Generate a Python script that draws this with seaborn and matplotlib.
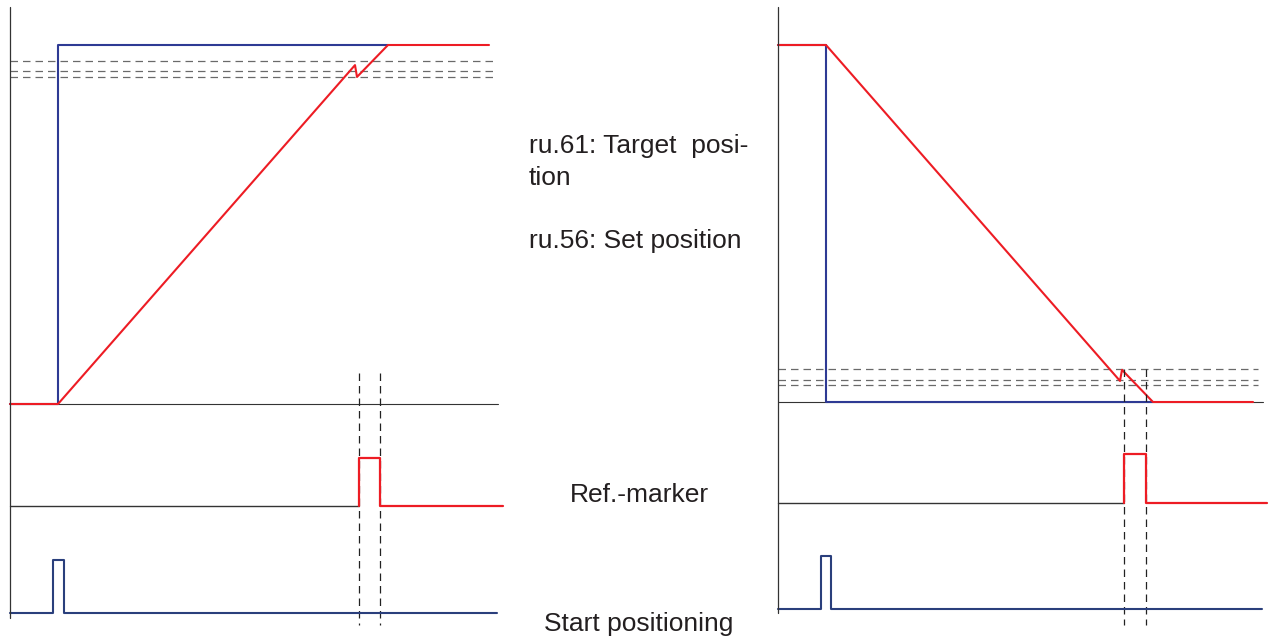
import matplotlib
matplotlib.use("Agg")
import matplotlib.pyplot as plt
import matplotlib.transforms as mtransforms
from matplotlib.lines import Line2D
import seaborn as sns

# ---- data (time in ms-like units, position in % of travel, digital signals 0/1) ----
# left panel: positioning in positive direction
L_SET_T = [0, 48, 48, 378]
L_SET_V = [0, 0, 100, 100]
L_TGT_T = [0, 48, 345, 347, 378, 479]
L_TGT_V = [0, 0, 94.4, 91.1, 100, 100]
L_WINDOW = [95.5, 92.8, 91.2]
L_REF_T = [0, 349, 349, 370, 370, 493]
L_REF_V = [0, 0, 1, 1, 0, 0]
L_START_T = [0, 43, 43, 54, 54, 487]
L_START_V = [0, 0, 1, 1, 0, 0]
L_MARK_T = [349, 370]
L_BASE_END = 488
L_WINDOW_END = 483

# right panel: positioning in negative direction
R_SET_T = [0, 48, 48, 375]
R_SET_V = [100, 100, 0, 0]
R_TGT_T = [0, 48, 342, 344, 375, 475]
R_TGT_V = [100, 100, 5.9, 9.0, 0, 0]
R_WINDOW = [9.2, 6.2, 4.8]
R_REF_T = [0, 346, 346, 368, 368, 489]
R_REF_V = [0, 0, 1, 1, 0, 0]
R_START_T = [0, 43, 43, 53, 53, 484]
R_START_V = [0, 0, 1, 1, 0, 0]
R_MARK_T = [346, 368]
R_BASE_END = 485
R_WINDOW_END = 480

LABELS = ["ru.61: Target  posi-", "tion", "ru.56: Set position", "Ref.-marker", "Start positioning"]

RED = "#ED1C24"
BLUE = "#2E3A94"
NAVY = "#2A3F7C"
DASH = "#6a6a6a"
AXIS = "#333333"

sns.set_style("white")
plt.rcParams['font.family'] = ['Liberation Sans', 'DejaVu Sans']

W, H = 1271, 637
fig = plt.figure(figsize=(W / 100, H / 100), dpi=100)


def track(x0, y_lo, y_hi, lo, hi, tmax=500):
    # axes where level lo sits on pixel row y_lo and level hi on row y_hi
    ax = fig.add_axes([x0 / W, 1 - y_lo / H, tmax / W, (y_lo - y_hi) / H])
    ax.set_xlim(0, tmax)
    ax.set_ylim(lo, hi)
    ax.axis('off')
    return ax


def line(ax, t, v, color, lw):
    sns.lineplot(x=t, y=v, ax=ax, sort=False, estimator=None, color=color,
                 linewidth=lw, clip_on=False)


def panel(x0, rows, set_t, set_v, tgt_t, tgt_v, window, win_end, base_end,
          ref_t, ref_v, st_t, st_v, marks, mark_top, axis_bottom):
    (p0, p1), (r0, r1), (s0, s1) = rows
    pos = track(x0, p0, p1, 0, 100)
    ref = track(x0, r0, r1, 0, 1)
    st = track(x0, s0, s1, 0, 1)

    # position window (dashed)
    for lvl in window:
        pos.plot([0, win_end], [lvl, lvl], color=DASH, lw=0.9,
                 linestyle=(0, (6, 4)), clip_on=False)
    pos.plot([0, base_end], [0, 0], color=AXIS, lw=0.8, clip_on=False)
    line(pos, set_t, set_v, BLUE, 1.5)
    line(pos, tgt_t, tgt_v, RED, 1.5)

    line(ref, ref_t[:2], ref_v[:2], AXIS, 1.0)
    line(ref, ref_t[1:], ref_v[1:], RED, 1.6)

    line(st, st_t, st_v, NAVY, 1.5)

    # marker edges, dashed over all tracks
    tr = mtransforms.blended_transform_factory(pos.transData, fig.transFigure)
    for t in marks:
        pos.plot([t, t], [1 - mark_top / H, 1 - 625 / H], transform=tr,
                 color="#222222", lw=0.9, linestyle=(0, (6, 4)), clip_on=False)

    fig.add_artist(Line2D([x0 / W, x0 / W], [1 - 7 / H, 1 - axis_bottom / H],
                          color=AXIS, lw=0.9))


panel(10, [(404, 45), (506, 458), (613, 560)], L_SET_T, L_SET_V, L_TGT_T, L_TGT_V,
      L_WINDOW, L_WINDOW_END, L_BASE_END, L_REF_T, L_REF_V, L_START_T, L_START_V,
      L_MARK_T, 373, 618)
panel(778, [(402, 45), (503, 454), (609, 556)], R_SET_T, R_SET_V, R_TGT_T, R_TGT_V,
      R_WINDOW, R_WINDOW_END, R_BASE_END, R_REF_T, R_REF_V, R_START_T, R_START_V,
      R_MARK_T, 369, 613)

# labels in the middle column
fs = 19
for txt, x, y in zip(LABELS, [529, 529, 529, 570, 544], [146, 178, 241, 495, 624]):
    fig.text(x / W, 1 - y / H, txt, fontsize=fs, color="#231f20", va='center', ha='left')

fig.savefig("out.png", dpi=100)
